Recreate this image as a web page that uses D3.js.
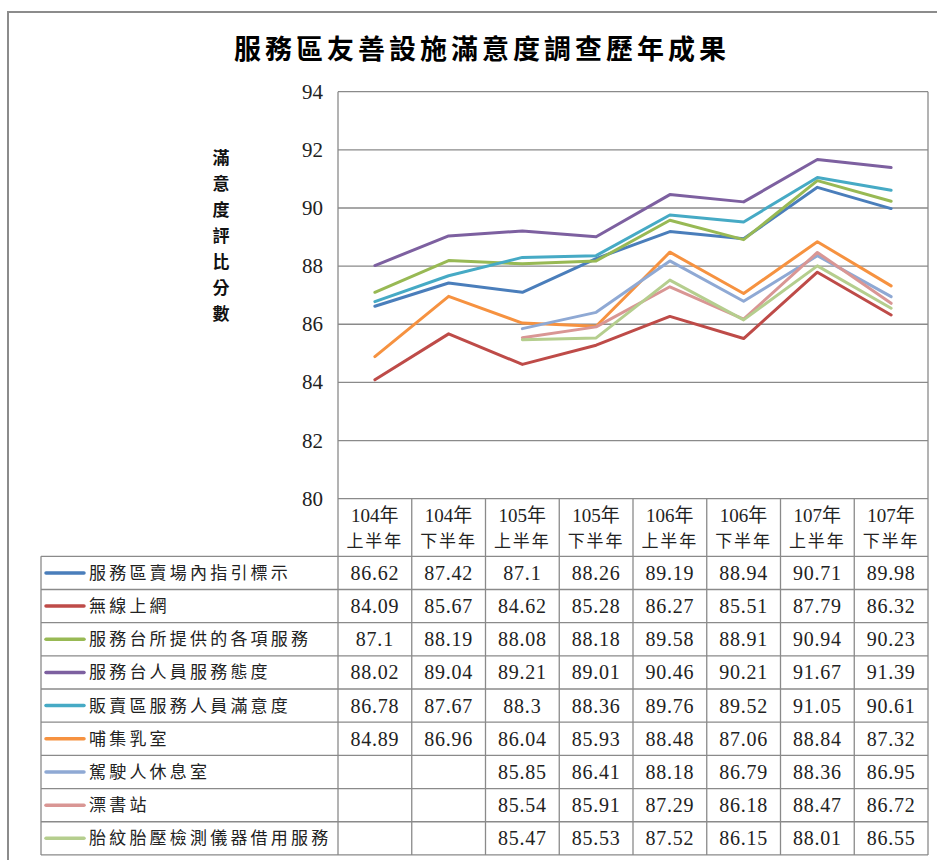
<!DOCTYPE html>
<html><head><meta charset="utf-8">
<script src="https://cdn.jsdelivr.net/npm/d3@7"></script>
<style>body{margin:0;background:#fff}svg{display:block}</style>
</head><body><svg id="c" width="937" height="860"></svg>
<script>
const title = "服務區友善設施滿意度調查歷年成果";
const yTitle = "滿意度評比分數";
const catYears = ["104年","104年","105年","105年","106年","106年","107年","107年"];
const catHalves = ["上半年","下半年","上半年","下半年","上半年","下半年","上半年","下半年"];
const categories = catYears.map((y,i)=>y+catHalves[i]);
const yTicks = [80,82,84,86,88,90,92,94];
const seriesNames = ["服務區賣場內指引標示","無線上網","服務台所提供的各項服務","服務台人員服務態度","販賣區服務人員滿意度","哺集乳室","駕駛人休息室","漂書站","胎紋胎壓檢測儀器借用服務"];
const s1 = [86.62,87.42,87.1,88.26,89.19,88.94,90.71,89.98];
const s2 = [84.09,85.67,84.62,85.28,86.27,85.51,87.79,86.32];
const s3 = [87.1,88.19,88.08,88.18,89.58,88.91,90.94,90.23];
const s4 = [88.02,89.04,89.21,89.01,90.46,90.21,91.67,91.39];
const s5 = [86.78,87.67,88.3,88.36,89.76,89.52,91.05,90.61];
const s6 = [84.89,86.96,86.04,85.93,88.48,87.06,88.84,87.32];
const s7 = [null,null,85.85,86.41,88.18,86.79,88.36,86.95];
const s8 = [null,null,85.54,85.91,87.29,86.18,88.47,86.72];
const s9 = [null,null,85.47,85.53,87.52,86.15,88.01,86.55];
const seriesValues = [s1,s2,s3,s4,s5,s6,s7,s8,s9];
const colors = ["#4A7EBB","#BE4B48","#98B954","#7D60A0","#46AAC5","#F69240","#8FA9D4","#D99694","#B5CE8E"];

const svg = d3.select("#c");
const grid = "#8a8a8a";
const serif = "'Liberation Serif','Noto Sans CJK TC',serif";
const cjk = "'Noto Sans CJK TC','Noto Sans CJK SC',sans-serif";

// outer frame (clipped at right/bottom)
svg.append("path").attr("d","M8,870 V12 H950").attr("fill","none").attr("stroke","#8c8c8c").attr("stroke-width",2);

// title
svg.append("text").attr("x",482).attr("y",59).attr("text-anchor","middle")
  .attr("font-family",cjk).attr("font-weight","bold").attr("font-size",27)
  .attr("letter-spacing",4).attr("fill","#000").text(title);

const left = 338, right = 928;
const x = d3.scaleBand().domain(categories).range([left,right]);
const y = d3.scaleLinear().domain([80,94]).range([498.7,91.7]);

// gridlines
svg.append("g").selectAll("line").data(yTicks).join("line")
  .attr("x1",left).attr("x2",right).attr("y1",d=>y(d)).attr("y2",d=>y(d))
  .attr("stroke",grid).attr("stroke-width",1.3);

// y tick labels
svg.append("g").selectAll("text").data(yTicks).join("text")
  .attr("x",323).attr("y",d=>y(d)+7).attr("text-anchor","end")
  .attr("font-family",serif).attr("font-size",21).attr("fill","#222").text(d=>d);

// y title vertical
svg.append("g").selectAll("text").data(yTitle.split("")).join("text")
  .attr("x",221).attr("y",(d,i)=>164+i*26).attr("text-anchor","middle")
  .attr("font-family",cjk).attr("font-weight","bold").attr("font-size",17).attr("fill","#111").text(d=>d);

// lines
const line = d3.line().defined(d=>d.v!=null).x(d=>x(d.c)+x.bandwidth()/2).y(d=>y(d.v));
svg.append("g").selectAll("path").data(seriesValues).join("path")
  .attr("d",vals=>line(vals.map((v,i)=>({c:categories[i],v}))))
  .attr("fill","none").attr("stroke",(d,i)=>colors[i]).attr("stroke-width",3)
  .attr("stroke-linejoin","round").attr("stroke-linecap","round");

// table
const tableTop = y(80), headBottom = 556.3, rowH = 33.18;
const tLeft = 41;
const tBottom = headBottom + rowH*seriesNames.length;
const tg = svg.append("g");
tg.append("line").attr("x1",left).attr("x2",left).attr("y1",y(94)).attr("y2",tBottom).attr("stroke",grid).attr("stroke-width",1.3);
const colEdges = categories.map(c=>x(c)+x.bandwidth());
tg.selectAll("line.col").data(colEdges).join("line").attr("class","col")
  .attr("x1",d=>d).attr("x2",d=>d).attr("y1",(d,i)=>i===colEdges.length-1?y(94):tableTop).attr("y2",tBottom)
  .attr("stroke",grid).attr("stroke-width",1.3);
const rowLines = d3.range(seriesNames.length+1).map(i=>headBottom+i*rowH);
tg.selectAll("line.row").data(rowLines).join("line").attr("class","row")
  .attr("x1",tLeft).attr("x2",right).attr("y1",d=>d).attr("y2",d=>d)
  .attr("stroke",grid).attr("stroke-width",1.3);
tg.append("line").attr("x1",tLeft).attr("x2",tLeft).attr("y1",headBottom).attr("y2",tBottom).attr("stroke",grid).attr("stroke-width",1.3);

// header text
categories.forEach((c,i)=>{
  const cx = x(c)+x.bandwidth()/2;
  tg.append("text").attr("x",cx).attr("y",522).attr("text-anchor","middle")
    .attr("font-family",serif).attr("font-size",19).attr("fill","#222").text(catYears[i]);
  tg.append("text").attr("x",cx).attr("y",547).attr("text-anchor","middle")
    .attr("font-family",cjk).attr("font-size",17).attr("letter-spacing",2).attr("fill","#222").text(catHalves[i]);
});

// rows
seriesNames.forEach((name,r)=>{
  const cy = headBottom + rowH*r + rowH/2;
  tg.append("line").attr("x1",46).attr("x2",84).attr("y1",cy).attr("y2",cy)
    .attr("stroke",colors[r]).attr("stroke-width",3.5).attr("stroke-linecap","round");
  tg.append("text").attr("x",89).attr("y",cy+6).attr("font-family",cjk).attr("font-size",17)
    .attr("letter-spacing",3.2).attr("fill","#222").text(name);
  seriesValues[r].forEach((v,i)=>{
    if(v==null) return;
    tg.append("text").attr("x",x(categories[i])+x.bandwidth()/2).attr("y",cy+7).attr("text-anchor","middle")
      .attr("font-family",serif).attr("font-size",20).attr("letter-spacing",0.8).attr("fill","#222").text(v);
  });
});
</script></body></html>
